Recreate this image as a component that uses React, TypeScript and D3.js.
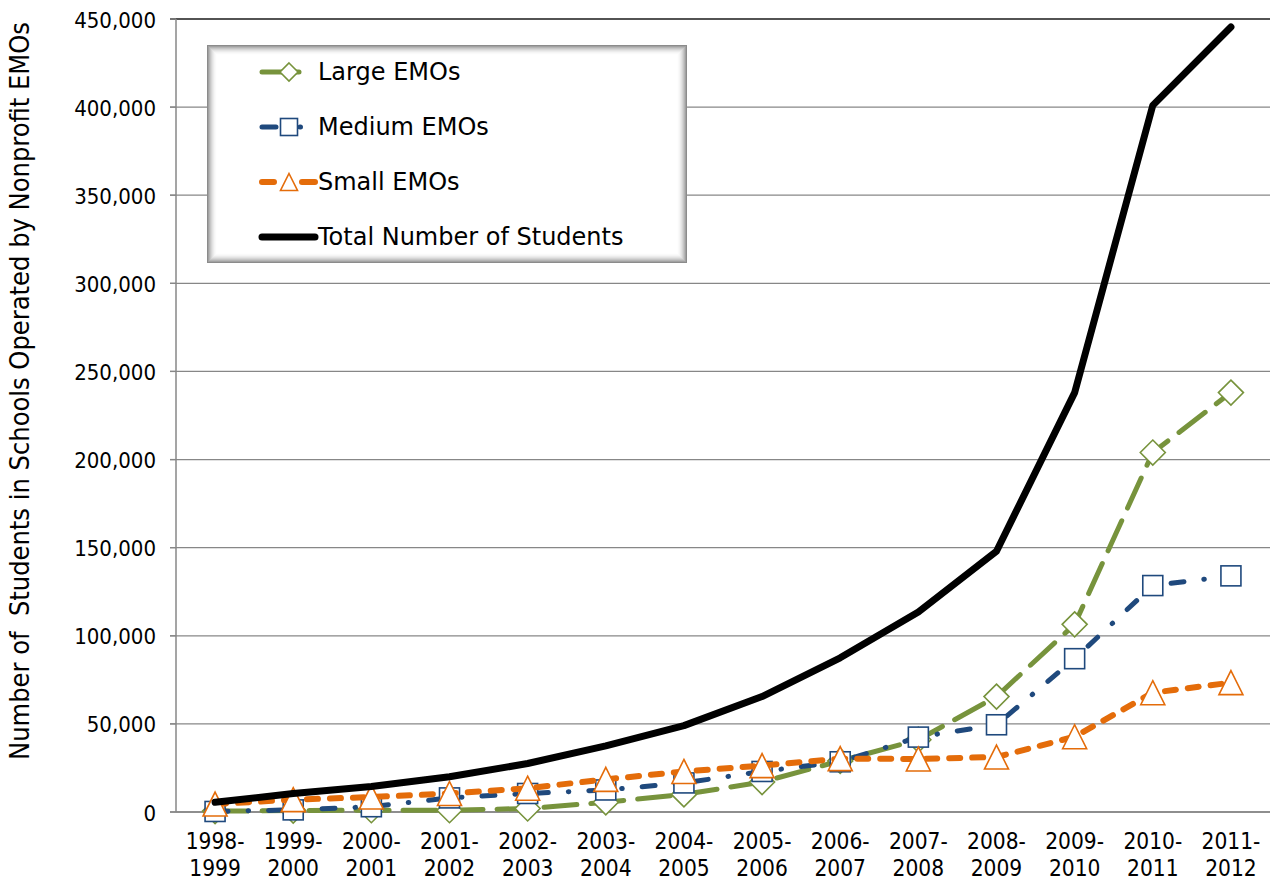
import React from "react";
import * as d3 from "d3";

const categories = [
  "1998-1999", "1999-2000", "2000-2001", "2001-2002", "2002-2003", "2003-2004", "2004-2005",
  "2005-2006", "2006-2007", "2007-2008", "2008-2009", "2009-2010", "2010-2011", "2011-2012",
];
const largeEMOs = [500, 800, 1000, 1000, 2000, 5500, 10000, 17000, 29000, 41000, 65500, 106500, 204000, 238000];
const mediumEMOs = [300, 1200, 3000, 8000, 10500, 12500, 16500, 23000, 28500, 42500, 49500, 87000, 128500, 134000];
const smallEMOs = [4500, 7000, 8500, 10500, 13500, 18500, 23000, 26300, 30300, 30100, 31200, 42700, 67700, 73400];
const totalStudents = [5500, 10500, 14500, 20000, 27500, 37500, 49000, 65500, 87500, 113500, 148000, 238000, 401000, 445500];
const yTicks = [0, 50000, 100000, 150000, 200000, 250000, 300000, 350000, 400000, 450000];
const legendLabels = ["Large EMOs", "Medium EMOs", "Small EMOs", "Total Number of Students"];
const yTitle = "Number of  Students in Schools Operated by Nonprofit EMOs";

const W = 1270;
const H = 880;
const FONT_C = "'DejaVu Sans Condensed', 'DejaVu Sans', sans-serif";
const FONT = "'DejaVu Sans', sans-serif";
const GREEN = "#77933C";
const BLUE = "#1F497D";
const ORANGE = "#E46C0A";
const GRID = "#878787";

type Marker = "diamond" | "square" | "triangle" | "none";
interface Series {
  name: string;
  values: number[];
  color: string;
  width: number;
  dash: string | null;
  legendDash: string | null;
  legendEnd: number;
  marker: Marker;
}

const series: Series[] = [
  { name: legendLabels[0], values: largeEMOs, color: GREEN, width: 5, dash: "33 14", legendDash: null, legendEnd: 299, marker: "diamond" },
  { name: legendLabels[1], values: mediumEMOs, color: BLUE, width: 5, dash: "13 20 0.5 20", legendDash: "14 24 0.5 40", legendEnd: 301, marker: "square" },
  { name: legendLabels[2], values: smallEMOs, color: ORANGE, width: 6, dash: "11 12", legendDash: "12 28 13 10", legendEnd: 315, marker: "triangle" },
  { name: legendLabels[3], values: totalStudents, color: "#000000", width: 7, dash: null, legendDash: null, legendEnd: 315, marker: "none" },
];

function markerShape(m: Marker, cx: number, cy: number, color: string, s: number, key: string) {
  if (m === "diamond") {
    const r = s / 2;
    return (
      <path key={key} d={`M${cx},${cy - r}L${cx + r},${cy}L${cx},${cy + r}L${cx - r},${cy}Z`}
        fill="#fff" stroke={color} strokeWidth={1.6} />
    );
  }
  if (m === "square") {
    const r = s / 2;
    return <rect key={key} x={cx - r} y={cy - r} width={s} height={s} fill="#fff" stroke={color} strokeWidth={1.6} />;
  }
  if (m === "triangle") {
    const r = s / 2;
    return (
      <path key={key} d={`M${cx},${cy - r}L${cx + r},${cy + r}L${cx - r},${cy + r}Z`}
        fill="#fff" stroke={color} strokeWidth={1.6} />
    );
  }
  return null;
}

export default function App() {
  const x = d3.scaleBand<string>().domain(categories).range([176, 1270]);
  const y = d3.scaleLinear().domain([0, 450000]).range([812, 19]);
  const cx = (i: number) => (x(categories[i]) as number) + x.bandwidth() / 2;
  const line = d3
    .line<number>()
    .x((_, i) => cx(i))
    .y((v) => y(v));

  const markerSize: Record<Marker, number> = { diamond: 25, square: 20, triangle: 24, none: 0 };
  const legendMarkerSize: Record<Marker, number> = { diamond: 18, square: 17, triangle: 17, none: 0 };

  const lx0 = 207, ly0 = 45, lw = 480, lh = 218;
  const rowY = [72, 127, 182, 237];

  return (
    <svg width={W} height={H} style={{ position: "absolute", left: 0, top: 0, background: "#fff" }}
      fontFamily={FONT_C}>
      <rect x={0} y={0} width={W} height={H} fill="#fff" />
      {/* gridlines */}
      {yTicks.map((t) => (
        <line key={"g" + t} x1={170} x2={1270} y1={y(t)} y2={y(t)}
          stroke={t === 450000 ? "#1a1a1a" : GRID} strokeWidth={t === 450000 ? 1.6 : 1.3} />
      ))}
      {yTicks.map((t) => (
        <line key={"tk" + t} x1={170} x2={176} y1={y(t)} y2={y(t)} stroke={GRID} strokeWidth={1.3} />
      ))}
      <line x1={176} x2={176} y1={19} y2={812} stroke={GRID} strokeWidth={1.5} />
      <line x1={176} x2={1270} y1={812} y2={812} stroke={GRID} strokeWidth={1.5} />
      {/* y tick labels */}
      {yTicks.map((t) => (
        <text key={"yl" + t} x={156} y={y(t) + 1} textAnchor="end" dominantBaseline="central"
          fontSize={22} fill="#000">
          {d3.format(",")(t)}
        </text>
      ))}
      {/* x labels */}
      {categories.map((c, i) => {
        const [a, b] = c.split("-");
        return (
          <text key={"xl" + c} x={cx(i)} textAnchor="middle" fontSize={22.5} fill="#000">
            <tspan x={cx(i)} y={849}>{a + "-"}</tspan>
            <tspan x={cx(i)} y={876}>{b}</tspan>
          </text>
        );
      })}
      {/* y title */}
      <text transform={`translate(29,391) rotate(-90)`} textAnchor="middle" fontSize={27} fill="#000"
        textLength={738} lengthAdjust="spacingAndGlyphs" style={{ whiteSpace: "pre" }}>
        {yTitle}
      </text>
      {/* series */}
      {series.map((s, si) => (
        <g key={"s" + si}>
          <path d={line(s.values) || ""} fill="none" stroke={s.color} strokeWidth={s.width}
            strokeDasharray={s.dash || undefined} strokeLinecap="round" strokeLinejoin="round" />
          {s.values.map((v, i) => markerShape(s.marker, cx(i), y(v), s.color, markerSize[s.marker], `m${si}-${i}`))}
        </g>
      ))}
      {/* legend */}
      <g>
        <rect x={lx0} y={ly0} width={lw} height={lh} fill="#fff" />
        {d3.range(10).map((k) => (
          <rect key={"lb" + k} x={lx0 + k + 0.5} y={ly0 + k + 0.5} width={lw - 2 * k - 1} height={lh - 2 * k - 1}
            fill="none" stroke="#6e6e6e" strokeOpacity={0.8 * Math.pow(1 - k / 10, 2)} strokeWidth={1} />
        ))}
        {series.map((s, si) => (
          <g key={"lg" + si}>
            <line x1={262} x2={s.legendEnd} y1={rowY[si]} y2={rowY[si]} stroke={s.color}
              strokeWidth={s.width} strokeDasharray={s.legendDash || undefined} strokeLinecap="round" />
            {markerShape(s.marker, 289, rowY[si], s.color, legendMarkerSize[s.marker], `lm${si}`)}
            <text x={318} y={rowY[si]} dominantBaseline="central" fontSize={24} fill="#000" fontFamily={FONT}>
              {s.name}
            </text>
          </g>
        ))}
      </g>
    </svg>
  );
}
